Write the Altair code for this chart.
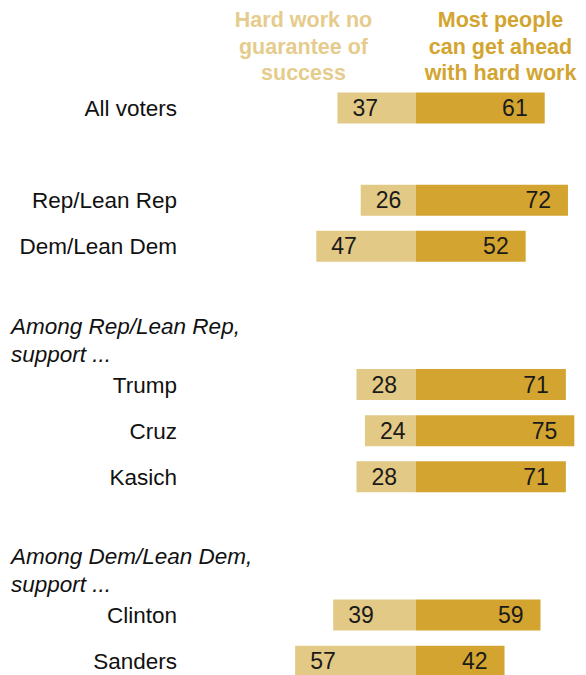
import altair as alt
import pandas as pd

# ---- data ----
categories = ["All voters", "Rep/Lean Rep", "Dem/Lean Dem", "Trump", "Cruz",
              "Kasich", "Clinton", "Sanders"]
no_guarantee = [37, 26, 47, 28, 24, 28, 39, 57]
get_ahead = [61, 72, 52, 71, 75, 71, 59, 42]
row_slot = [0, 2, 3, 6, 7, 8, 11, 12]  # row order with blank gaps
group_notes = [("Among Rep/Lean Rep,", "support ...", 6),
               ("Among Dem/Lean Dem,", "support ...", 11)]
left_header = ["Hard work no", "guarantee of", "success"]
right_header = ["Most people", "can get ahead", "with hard work"]

LIGHT = "#E2C985"
DARK = "#D3A530"
LIGHT_TXT = "#E5CC8C"
FONT = "Liberation Sans"

W, H = 570, 667
CENTER_PX = 407.7
PX_PER_UNIT = 2.115
FIRST_ROW_PX = 100.0
STEP_PX = 46.1

x_scale = alt.Scale(domain=[-CENTER_PX / PX_PER_UNIT, (W - CENTER_PX) / PX_PER_UNIT],
                    nice=False, zero=False, padding=0)
y_scale = alt.Scale(domain=[-FIRST_ROW_PX / STEP_PX, (H - FIRST_ROW_PX) / STEP_PX],
                    nice=False, zero=False, reverse=True, padding=0)

df = pd.DataFrame({
    "cat": categories,
    "left": [-v for v in no_guarantee],
    "leftv": no_guarantee,
    "right": get_ahead,
    "slot": row_slot,
})
df["zero"] = 0

notes = []
for l1, l2, s in group_notes:
    notes.append({"t": l1, "slot": s - 1.1})
    notes.append({"t": l2, "slot": s - 0.5})
notes_df = pd.DataFrame(notes)

hdr_rows = []
for i, (a, b) in enumerate(zip(left_header, right_header)):
    hdr_rows.append({"t": a, "side": "L", "line": i})
    hdr_rows.append({"t": b, "side": "R", "line": i})
hdr_df = pd.DataFrame(hdr_rows)

X = lambda f: alt.X(f, type="quantitative", scale=x_scale, axis=None)
Y = alt.Y("slot:Q", scale=y_scale, axis=None)

base = alt.Chart(df)

left_bar = base.mark_bar(size=31, color=LIGHT).encode(x=X("left"), x2="zero", y=Y)
right_bar = base.mark_bar(size=31, color=DARK).encode(x=X("zero"), x2="right", y=Y)

left_txt = base.mark_text(align="left", baseline="middle", dx=15, dy=1, font=FONT,
                          fontSize=23, color="#1a1a1a").encode(
    x=X("left"), y=Y, text="leftv:Q")
right_txt = base.mark_text(align="right", baseline="middle", dx=-17, dy=1, font=FONT,
                           fontSize=23, color="#1a1a1a").encode(
    x=X("right"), y=Y, text="right:Q")

cat_txt = base.mark_text(align="right", baseline="middle", dy=1, font=FONT,
                         fontSize=22.5, color="#111111").encode(
    x=alt.value(169), y=Y, text="cat:N")

note_txt = alt.Chart(notes_df).mark_text(align="left", baseline="alphabetic", font=FONT,
                                         fontSize=22.5, fontStyle="italic",
                                         color="#111111").encode(
    x=alt.value(3), y=alt.Y("slot:Q", scale=y_scale, axis=None), text="t:N")

hdr_L = alt.Chart(hdr_df).transform_filter(alt.datum.side == "L").transform_calculate(
    py="19 + datum.line * 26.5").mark_text(
    align="center", baseline="alphabetic", font=FONT, fontSize=21.5, fontWeight="bold",
    color=LIGHT_TXT).encode(x=alt.value(295.5), y=alt.Y("py:Q", scale=None), text="t:N")
hdr_R = alt.Chart(hdr_df).transform_filter(alt.datum.side == "R").transform_calculate(
    py="19 + datum.line * 26.5").mark_text(
    align="center", baseline="alphabetic", font=FONT, fontSize=21.5, fontWeight="bold",
    color=DARK).encode(x=alt.value(492.5), y=alt.Y("py:Q", scale=None), text="t:N")

chart = alt.layer(left_bar, right_bar, left_txt, right_txt, cat_txt, note_txt, hdr_L, hdr_R).properties(
    width=W, height=H, padding=0, autosize=alt.AutoSizeParams(type="none")
).configure_view(stroke=None)

chart.save("out.html", embed_options={"renderer": "svg", "actions": False})
